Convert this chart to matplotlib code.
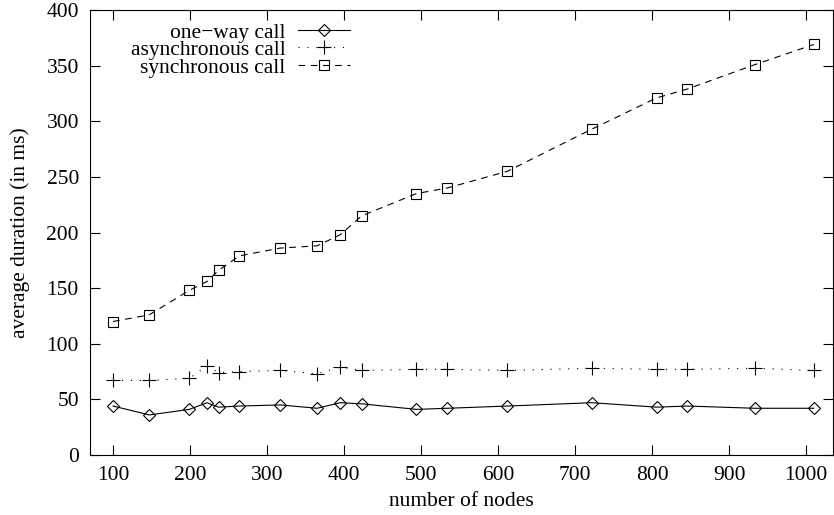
import matplotlib
matplotlib.use("Agg")
import matplotlib.pyplot as plt

plt.rcParams['font.family'] = ['Liberation Serif', 'DejaVu Serif']
plt.rcParams['font.size'] = 15.5

nodes = [100, 147, 199, 222, 237, 264, 317, 365, 395, 423, 494, 534, 612, 722, 806, 846, 934, 1010]
oneway = [44, 36, 41, 47, 43, 44, 45, 42, 47, 46, 41, 42, 44, 47, 43, 44, 42, 42]
async_call = [67, 67, 69, 80, 74, 75, 76, 73, 79, 76, 77, 77, 76, 78, 77, 77, 78, 76]
sync_call = [120, 126, 148, 156, 166, 179, 186, 188, 198, 215, 235, 240, 255, 293, 321, 329, 351, 369]

xticks = [100, 200, 300, 400, 500, 600, 700, 800, 900, 1000]
yticks = [0, 50, 100, 150, 200, 250, 300, 350, 400]

fig = plt.figure(figsize=(8.34, 5.15), dpi=100)
ax = fig.add_axes([90/834, 60/515, 743/834, 445/515])

lw = 0.8
ax.plot(nodes, oneway, color='black', lw=lw, marker='D', ms=6.5,
        mfc='none', mec='black', mew=lw, label='one\u2212way call')
ax.plot(nodes, async_call, color='black', lw=lw, dashes=(1, 7), marker='+', ms=9.5,
        mew=lw, label='asynchronous call')
ax.plot(nodes, sync_call, color='black', lw=lw, dashes=(6, 5), marker='s', ms=7.5,
        mfc='none', mec='black', mew=lw, label='synchronous call')

ax.set_xlim(70, 1035)
ax.set_ylim(0, 400)
ax.set_xticks(xticks)
ax.set_yticks(yticks)
ax.tick_params(direction='in', length=7.5, width=lw, top=True, right=True, pad=8)
for s in ax.spines.values():
    s.set_linewidth(lw)

ax.set_xlabel('number of nodes', labelpad=5)
ax.set_ylabel('average duration (in ms)', labelpad=12)

leg = ax.legend(loc='upper right', bbox_to_anchor=(0.35, 0.972), frameon=False,
                markerfirst=False, borderpad=0, borderaxespad=0,
                handlelength=2.4, handletextpad=0.6, labelspacing=-0.12)

fig.savefig('out.png', dpi=100)
